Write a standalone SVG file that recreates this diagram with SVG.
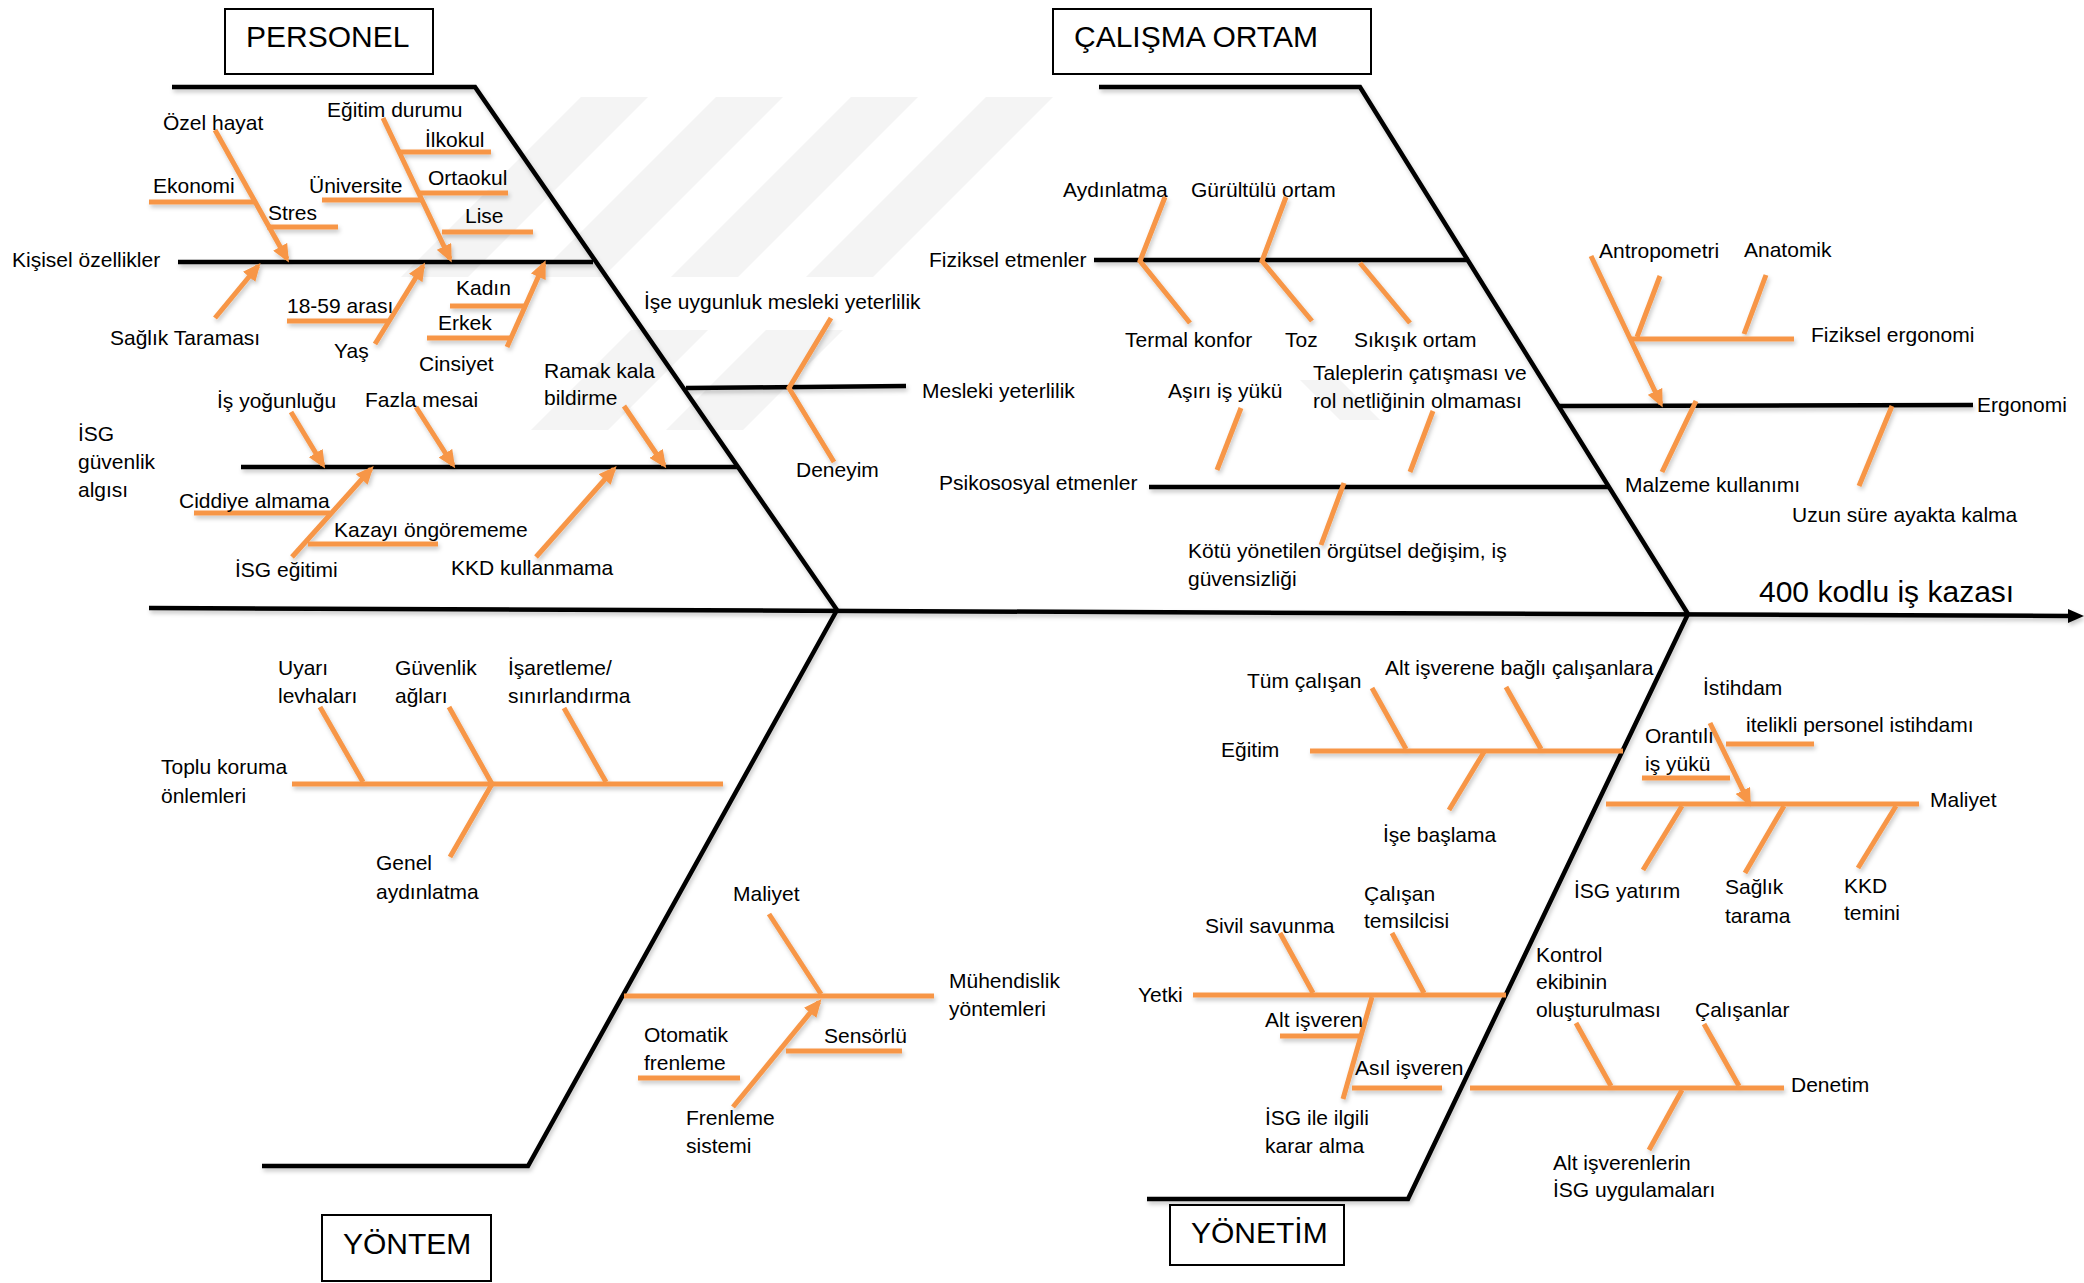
<svg xmlns="http://www.w3.org/2000/svg" width="2084" height="1283" viewBox="0 0 2084 1283">
<style>
.blk{stroke:#000;stroke-width:4.5;fill:none;stroke-linejoin:miter}
.org{stroke:#F79646;stroke-width:5;fill:none}
.arr{stroke:#F79646;stroke-width:5;fill:none;marker-end:url(#oa)}
text{font-family:"Liberation Sans",Arial,sans-serif;font-size:21px;fill:#000}
.big{font-size:30px}
.box{fill:#fff;stroke:#000;stroke-width:2}
.wm{fill:#f4f4f4}
</style>
<defs>
<marker id="oa" markerUnits="userSpaceOnUse" markerWidth="18" markerHeight="16" refX="14" refY="8" orient="auto">
<path d="M0,0 L18,8 L0,16 z" fill="#F79646"/>
</marker>
<filter id="sh" x="-5%" y="-5%" width="110%" height="110%">
<feDropShadow dx="1.5" dy="3" stdDeviation="2" flood-color="#000" flood-opacity="0.22"/>
</filter>
</defs>
<rect width="2084" height="1283" fill="#fff"/>
<g id="watermark">
<polygon class="wm" points="581,97 648,97 468,277 401,277"/>
<polygon class="wm" points="716,97 783,97 603,277 536,277"/>
<polygon class="wm" points="851,97 918,97 738,277 671,277"/>
<polygon class="wm" points="986,97 1053,97 873,277 806,277"/>
<polygon class="wm" points="631,330 708,330 608,430 531,430"/>
<polygon class="wm" points="766,330 843,330 743,430 666,430"/>
<polygon class="wm" points="1300,380 1340,380 1380,420 1340,420"/>
</g>
<g id="connectors" filter="url(#sh)">
<line class="blk" x1="149" y1="608" x2="2072" y2="616"/>
<polygon points="2068,609 2084,616 2068,623" fill="#000"/>
<polyline class="blk" points="172,87 475,87 837,610"/>
<line class="blk" x1="178" y1="262" x2="593" y2="262"/>
<line class="blk" x1="241" y1="467" x2="738" y2="467"/>
<line class="blk" x1="686" y1="388" x2="906" y2="386"/>
<polyline class="blk" points="1099,87 1360,87 1688,614"/>
<line class="blk" x1="1094" y1="260" x2="1469" y2="260"/>
<line class="blk" x1="1149" y1="487" x2="1609" y2="487"/>
<line class="blk" x1="1558" y1="406" x2="1973" y2="405"/>
<polyline class="blk" points="262,1166 528,1166 837,610"/>
<polyline class="blk" points="1147,1199 1408,1199 1688,614"/>
<line class="org" x1="292" y1="784" x2="723" y2="784"/>
<line class="org" x1="624" y1="996" x2="934" y2="996"/>
<line class="org" x1="1310" y1="751" x2="1623" y2="751"/>
<line class="org" x1="1606" y1="804" x2="1919" y2="804"/>
<line class="org" x1="1193" y1="995" x2="1506" y2="995"/>
<line class="org" x1="1470" y1="1088" x2="1784" y2="1088"/>
<line class="org" x1="1631" y1="339" x2="1794" y2="339"/>
<line class="arr" x1="215" y1="130" x2="287" y2="259"/>
<line class="arr" x1="383" y1="118" x2="450" y2="259"/>
<line class="arr" x1="215" y1="318" x2="258" y2="266"/>
<line class="arr" x1="375" y1="344" x2="423" y2="266"/>
<line class="arr" x1="507" y1="347" x2="544" y2="264"/>
<line class="arr" x1="291" y1="412" x2="323" y2="465"/>
<line class="arr" x1="416" y1="407" x2="453" y2="465"/>
<line class="arr" x1="292" y1="557" x2="371" y2="469"/>
<line class="arr" x1="536" y1="557" x2="614" y2="469"/>
<line class="arr" x1="624" y1="406" x2="664" y2="465"/>
<line class="arr" x1="1591" y1="256" x2="1661" y2="404"/>
<line class="arr" x1="733" y1="1107" x2="819" y2="1002"/>
<line class="arr" x1="1710" y1="723" x2="1749" y2="803"/>
<line class="org" x1="149" y1="202" x2="255" y2="202"/>
<line class="org" x1="267" y1="227" x2="338" y2="227"/>
<line class="org" x1="400" y1="152" x2="491" y2="152"/>
<line class="org" x1="418" y1="193" x2="508" y2="193"/>
<line class="org" x1="322" y1="200" x2="421" y2="200"/>
<line class="org" x1="442" y1="232" x2="533" y2="232"/>
<line class="org" x1="450" y1="306" x2="525" y2="306"/>
<line class="org" x1="427" y1="338" x2="510" y2="338"/>
<line class="org" x1="287" y1="321" x2="390" y2="321"/>
<line class="org" x1="194" y1="513" x2="330" y2="513"/>
<line class="org" x1="308" y1="544" x2="438" y2="544"/>
<line class="org" x1="638" y1="1078" x2="740" y2="1078"/>
<line class="org" x1="786" y1="1051" x2="902" y2="1051"/>
<line class="org" x1="1726" y1="744" x2="1814" y2="744"/>
<line class="org" x1="1642" y1="778" x2="1730" y2="778"/>
<line class="org" x1="1280" y1="1036" x2="1359" y2="1036"/>
<line class="org" x1="1352" y1="1088" x2="1442" y2="1088"/>
<polyline class="org" points="831,318 789,388 834,462"/>
<polyline class="org" points="1165,197 1140,261 1190,323"/>
<polyline class="org" points="1286,197 1262,261 1312,321"/>
<line class="org" x1="1360" y1="263" x2="1410" y2="323"/>
<line class="org" x1="1241" y1="408" x2="1217" y2="470"/>
<line class="org" x1="1433" y1="411" x2="1410" y2="472"/>
<line class="org" x1="1344" y1="483" x2="1321" y2="545"/>
<line class="org" x1="1660" y1="276" x2="1637" y2="337"/>
<line class="org" x1="1766" y1="275" x2="1744" y2="334"/>
<line class="org" x1="1696" y1="401" x2="1662" y2="472"/>
<line class="org" x1="1892" y1="406" x2="1859" y2="486"/>
<line class="org" x1="320" y1="707" x2="363" y2="782"/>
<polyline class="org" points="449,707 492,784 450,857"/>
<line class="org" x1="564" y1="708" x2="606" y2="782"/>
<line class="org" x1="769" y1="914" x2="821" y2="994"/>
<line class="org" x1="1372" y1="688" x2="1406" y2="749"/>
<line class="org" x1="1506" y1="687" x2="1541" y2="749"/>
<line class="org" x1="1484" y1="752" x2="1449" y2="810"/>
<line class="org" x1="1682" y1="806" x2="1643" y2="870"/>
<line class="org" x1="1784" y1="806" x2="1745" y2="873"/>
<line class="org" x1="1896" y1="806" x2="1858" y2="868"/>
<line class="org" x1="1280" y1="933" x2="1313" y2="993"/>
<line class="org" x1="1392" y1="933" x2="1424" y2="993"/>
<line class="org" x1="1372" y1="997" x2="1343" y2="1099"/>
<line class="org" x1="1576" y1="1023" x2="1611" y2="1086"/>
<line class="org" x1="1704" y1="1024" x2="1739" y2="1086"/>
<line class="org" x1="1682" y1="1090" x2="1649" y2="1150"/>
</g>
<g id="head"><text class="big" x="1759" y="602">400 kodlu iş kazası</text></g>
<g id="personel">
<rect class="box" x="225" y="9" width="208" height="65"/>
<text class="big" x="246" y="47">PERSONEL</text>
<text x="12" y="267">Kişisel özellikler</text>
<text x="163" y="130">Özel hayat</text>
<text x="153" y="193">Ekonomi</text>
<text x="268" y="220">Stres</text>
<text x="327" y="117">Eğitim durumu</text>
<text x="425" y="147">İlkokul</text>
<text x="428" y="185">Ortaokul</text>
<text x="309" y="193">Üniversite</text>
<text x="465" y="223">Lise</text>
<text x="110" y="345">Sağlık Taraması</text>
<text x="287" y="313">18-59 arası</text>
<text x="334" y="358">Yaş</text>
<text x="456" y="295">Kadın</text>
<text x="438" y="330">Erkek</text>
<text x="419" y="371">Cinsiyet</text>
<text x="217" y="408">İş yoğunluğu</text>
<text x="365" y="407">Fazla mesai</text>
<text x="544" y="378">Ramak kala</text>
<text x="544" y="405">bildirme</text>
<text x="644" y="309">İşe uygunluk mesleki yeterlilik</text>
<text x="922" y="398">Mesleki yeterlilik</text>
<text x="796" y="477">Deneyim</text>
<text x="78" y="441">İSG</text>
<text x="78" y="469">güvenlik</text>
<text x="78" y="497">algısı</text>
<text x="179" y="508">Ciddiye almama</text>
<text x="334" y="537">Kazayı öngörememe</text>
<text x="235" y="577">İSG eğitimi</text>
<text x="451" y="575">KKD kullanmama</text>
</g>
<g id="calisma-ortam">
<rect class="box" x="1053" y="9" width="318" height="65"/>
<text class="big" x="1074" y="47">ÇALIŞMA ORTAM</text>
<text x="1063" y="197">Aydınlatma</text>
<text x="1191" y="197">Gürültülü ortam</text>
<text x="929" y="267">Fiziksel etmenler</text>
<text x="1125" y="347">Termal konfor</text>
<text x="1285" y="347">Toz</text>
<text x="1354" y="347">Sıkışık ortam</text>
<text x="1168" y="398">Aşırı iş yükü</text>
<text x="1313" y="380">Taleplerin çatışması ve</text>
<text x="1313" y="408">rol netliğinin olmaması</text>
<text x="939" y="490">Psikososyal etmenler</text>
<text x="1188" y="558">Kötü yönetilen örgütsel değişim, iş</text>
<text x="1188" y="586">güvensizliği</text>
<text x="1599" y="258">Antropometri</text>
<text x="1744" y="257">Anatomik</text>
<text x="1811" y="342">Fiziksel ergonomi</text>
<text x="1977" y="412">Ergonomi</text>
<text x="1625" y="492">Malzeme kullanımı</text>
<text x="1792" y="522">Uzun süre ayakta kalma</text>
</g>
<g id="yontem">
<rect class="box" x="322" y="1215" width="169" height="66"/>
<text class="big" x="343" y="1254">YÖNTEM</text>
<text x="278" y="675">Uyarı</text>
<text x="278" y="703">levhaları</text>
<text x="395" y="675">Güvenlik</text>
<text x="395" y="703">ağları</text>
<text x="508" y="675">İşaretleme/</text>
<text x="508" y="703">sınırlandırma</text>
<text x="161" y="774">Toplu koruma</text>
<text x="161" y="803">önlemleri</text>
<text x="376" y="870">Genel</text>
<text x="376" y="899">aydınlatma</text>
<text x="733" y="901">Maliyet</text>
<text x="949" y="988">Mühendislik</text>
<text x="949" y="1016">yöntemleri</text>
<text x="644" y="1042">Otomatik</text>
<text x="644" y="1070">frenleme</text>
<text x="824" y="1043">Sensörlü</text>
<text x="686" y="1125">Frenleme</text>
<text x="686" y="1153">sistemi</text>
</g>
<g id="yonetim">
<rect class="box" x="1170" y="1205" width="174" height="60"/>
<text class="big" x="1191" y="1243">YÖNETİM</text>
<text x="1247" y="688">Tüm çalışan</text>
<text x="1385" y="675">Alt işverene bağlı çalışanlara</text>
<text x="1221" y="757">Eğitim</text>
<text x="1383" y="842">İşe başlama</text>
<text x="1703" y="695">İstihdam</text>
<text x="1746" y="732">itelikli personel istihdamı</text>
<text x="1645" y="743">Orantılı</text>
<text x="1645" y="771">iş yükü</text>
<text x="1930" y="807">Maliyet</text>
<text x="1574" y="898">İSG yatırım</text>
<text x="1725" y="894">Sağlık</text>
<text x="1725" y="923">tarama</text>
<text x="1844" y="893">KKD</text>
<text x="1844" y="920">temini</text>
<text x="1205" y="933">Sivil savunma</text>
<text x="1364" y="901">Çalışan</text>
<text x="1364" y="928">temsilcisi</text>
<text x="1138" y="1002">Yetki</text>
<text x="1265" y="1027">Alt işveren</text>
<text x="1355" y="1075">Asıl işveren</text>
<text x="1265" y="1125">İSG ile ilgili</text>
<text x="1265" y="1153">karar alma</text>
<text x="1536" y="962">Kontrol</text>
<text x="1536" y="989">ekibinin</text>
<text x="1536" y="1017">oluşturulması</text>
<text x="1695" y="1017">Çalışanlar</text>
<text x="1553" y="1170">Alt işverenlerin</text>
<text x="1553" y="1197">İSG uygulamaları</text>
<text x="1791" y="1092">Denetim</text>
</g>
</svg>
